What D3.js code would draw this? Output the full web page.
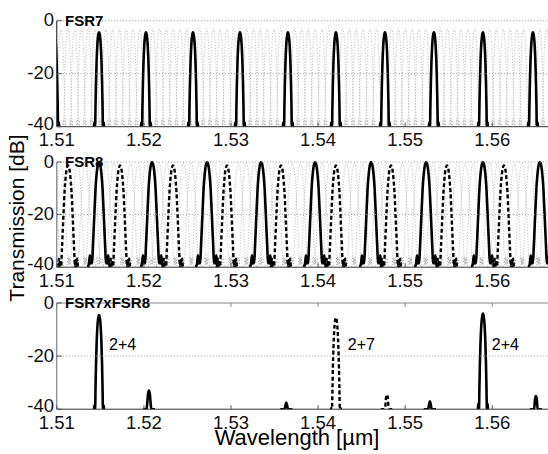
<!DOCTYPE html>
<html><head><meta charset="utf-8">
<script src="https://cdn.jsdelivr.net/npm/d3@7"></script>
<style>body{margin:0;background:#fff}svg{display:block;font-family:Arial,"Liberation Sans",Helvetica,sans-serif}</style>
</head><body><svg id="c" width="548" height="454"></svg>
<script>
// ---------------- data ----------------
const xTicks = [1.51, 1.52, 1.53, 1.54, 1.55, 1.56];
const xTickLabels = ["1.51", "1.52", "1.53", "1.54", "1.55", "1.56"];
const yTicks = [0, -20, -40];
const yTickLabels = ["0", "-20", "-40"];
const titles = ["FSR7", "FSR8", "FSR7xFSR8"];

// FSR7 (panel 1) solid peak centres [µm] and peak level [dB]
const fsr7Peaks = [1.5097, 1.51485, 1.52024, 1.52564, 1.53103, 1.53654, 1.54205, 1.54768, 1.55330, 1.55893, 1.56467];
const fsr7PeakDb = -4.4;
// other FSR7 channels (grey dotted) : offsets from each solid peak [µm]
const fsr7GreyOffsets = [0.00078, 0.00156, 0.00234, 0.00312, 0.0039, 0.00468];
const fsr7GreyDb = -3;

// FSR8 (panel 2)
const fsr8SolidPeaks = [1.50876, 1.51485, 1.52094, 1.52726, 1.53346, 1.53966, 1.54609, 1.55241, 1.55893, 1.56547];
const fsr8SolidDb = 0;
const fsr8DashedPeaks = [1.51129, 1.51726, 1.52334, 1.52954, 1.53574, 1.54205, 1.54837, 1.55480, 1.56134];
const fsr8DashedDb = -1.3;
const fsr8GreyOffsets = [0.0008, 0.0017, 0.0036, 0.0045, 0.0054];
const fsr8GreyDb = -0.5;

// FSR7 x FSR8 (panel 3): [centre µm, peak dB]
const prodSolidPeaks = [[1.51485, -4.5], [1.52058, -33], [1.53635, -37.5], [1.55284, -37], [1.55893, -4], [1.56501, -35]];
const prodDashedPeaks = [[1.54205, -5.5], [1.54790, -34.5]];
const annotations = [["2+4", 1.5160, -17.7], ["2+7", 1.54341, -17.7], ["2+4", 1.55995, -17.7]];

// half peak shapes: [offset µm, dB relative to peak]
const profile7 = [[0, 0], [0.0001, -1.2], [0.0002, -5], [0.00028, -11], [0.00035, -19], [0.0004, -27], [0.00045, -35.6], [0.00048, -36.5], [0.00053, -34], [0.00059, -36.8], [0.0007, -40]];
const profile8 = [[0, 0], [0.0001, -0.6], [0.0002, -2.3], [0.0003, -5.5], [0.0004, -10], [0.0005, -17], [0.0006, -24.5], [0.0007, -32], [0.0008, -38.5], [0.00088, -36], [0.00096, -38.6], [0.00105, -35.5], [0.00115, -38.5], [0.0013, -40]];

// ---------------- layout ----------------
const W = 548, H = 454;
const svg = d3.select("#c");
svg.append("rect").attr("width", W).attr("height", H).attr("fill", "#fff");
const x = d3.scaleLinear().domain([1.51, 1.5664]).range([56.8, 548]);
const panels = [
  {top: 20.7, bottom: 126.7, lblOff: 19.5, topBox: false},
  {top: 162, bottom: 267.2, lblOff: 19.5, topBox: false},
  {top: 303, bottom: 409.2, lblOff: 20, topBox: true}
];

function peakPoints(c, h, prof) {
  const pts = [];
  for (let i = prof.length - 1; i > 0; i--) pts.push([c - prof[i][0], Math.max(-40, h + prof[i][1])]);
  pts.push([c, h + prof[0][1]]);
  for (let i = 1; i < prof.length; i++) pts.push([c + prof[i][0], Math.max(-40, h + prof[i][1])]);
  return pts;
}

panels.forEach((p, i) => {
  const y = d3.scaleLinear().domain([-40, 0]).range([p.bottom, p.top]);
  const g = svg.append("g");
  const cid = "clip" + i;
  svg.append("clipPath").attr("id", cid).append("rect")
    .attr("x", x.range()[0]).attr("y", p.top - 2).attr("width", W - x.range()[0]).attr("height", p.bottom - p.top + 2);
  const line = d3.line().x(d => x(d[0])).y(d => y(d[1])).curve(d3.curveMonotoneX);
  const plot = g.append("g").attr("clip-path", `url(#${cid})`);

  // grey dotted background channels
  let grey = [];
  if (i === 0) fsr7Peaks.forEach(c => fsr7GreyOffsets.forEach(o => grey.push([c + o, fsr7GreyDb, profile7])));
  if (i === 1) fsr8SolidPeaks.forEach(c => fsr8GreyOffsets.forEach(o => grey.push([c + o, fsr8GreyDb, profile8])));
  grey.forEach(d => plot.append("path").attr("d", line(peakPoints(d[0], d[1], d[2])))
    .attr("fill", "none").attr("stroke", "#a8a8a8").attr("stroke-width", 0.8).attr("stroke-dasharray", "1,1.8"));

  // grid
  g.selectAll(null).data(yTicks.filter(t => i === 2 ? t === -20 : t > -40)).enter().append("line")
    .attr("x1", x.range()[0]).attr("x2", W).attr("y1", d => y(d)).attr("y2", d => y(d))
    .attr("stroke", "#9a9a9a").attr("stroke-width", 1).attr("stroke-dasharray", "1,2");

  // main curves
  let solid = [], dashed = [];
  if (i === 0) solid = fsr7Peaks.map(c => [c, fsr7PeakDb, profile7]);
  if (i === 1) { solid = fsr8SolidPeaks.map(c => [c, fsr8SolidDb, profile8]); dashed = fsr8DashedPeaks.map(c => [c, fsr8DashedDb, profile8]); }
  if (i === 2) { solid = prodSolidPeaks.map(d => [d[0], d[1], profile7]); dashed = prodDashedPeaks.map(d => [d[0], d[1], profile7]); }
  dashed.forEach(d => plot.append("path").attr("d", line(peakPoints(d[0], d[1], d[2])))
    .attr("fill", "none").attr("stroke", "#000").attr("stroke-width", 2.4).attr("stroke-dasharray", "4,2.5"));
  solid.forEach(d => plot.append("path").attr("d", line(peakPoints(d[0], d[1], d[2])))
    .attr("fill", "none").attr("stroke", "#000").attr("stroke-width", 2.6).attr("stroke-linejoin", "round"));

  // axes
  const ax = g.append("g").attr("stroke", "#555").attr("stroke-width", 1);
  ax.append("line").attr("x1", x.range()[0]).attr("x2", W).attr("y1", p.bottom).attr("y2", p.bottom).attr("stroke", "#333");
  ax.append("line").attr("x1", x.range()[0]).attr("x2", x.range()[0]).attr("y1", p.top).attr("y2", p.bottom).attr("stroke", i === 0 ? "#111" : "#666");
  if (p.topBox) ax.append("line").attr("x1", x.range()[0]).attr("x2", W).attr("y1", p.top).attr("y2", p.top).attr("stroke", "#888");
  xTicks.forEach(t => {
    ax.append("line").attr("x1", x(t)).attr("x2", x(t)).attr("y1", p.bottom).attr("y2", p.bottom - 4);
    if (p.topBox) ax.append("line").attr("x1", x(t)).attr("x2", x(t)).attr("y1", p.top).attr("y2", p.top + 4).attr("stroke", "#888");
  });
  yTicks.forEach(t => ax.append("line").attr("x1", x.range()[0]).attr("x2", x.range()[0] + 5).attr("y1", y(t)).attr("y2", y(t)));

  // tick labels
  g.selectAll(null).data(xTicks).enter().append("text")
    .attr("x", d => x(d)).attr("y", p.bottom + p.lblOff).attr("text-anchor", "middle")
    .attr("font-size", 18.5).attr("fill", "#111").text((d, k) => xTickLabels[k]);
  g.selectAll(null).data(yTicks).enter().append("text")
    .attr("x", 54).attr("y", d => y(d) + (d === -40 ? 3 : 5.5)).attr("text-anchor", "end")
    .attr("font-size", 18.5).attr("fill", "#111").text((d, k) => yTickLabels[k]);

  // title
  g.append("text").attr("x", 65).attr("y", p.top + 4.8).attr("font-size", 15).attr("font-weight", "bold")
    .attr("fill", "#000").text(titles[i]);

  if (i === 2) annotations.forEach(a => g.append("text").attr("x", x(a[1])).attr("y", y(a[2]))
    .attr("font-size", 16).attr("fill", "#000").text(a[0]));
});

svg.append("text").attr("x", 297).attr("y", 445).attr("text-anchor", "middle").attr("font-size", 22).attr("fill", "#000")
  .text("Wavelength [\u00b5m]");
svg.append("text").attr("transform", "translate(24,218) rotate(-90)").attr("text-anchor", "middle").attr("font-size", 21).attr("fill", "#000")
  .text("Transmission [dB]");
</script></body></html>
